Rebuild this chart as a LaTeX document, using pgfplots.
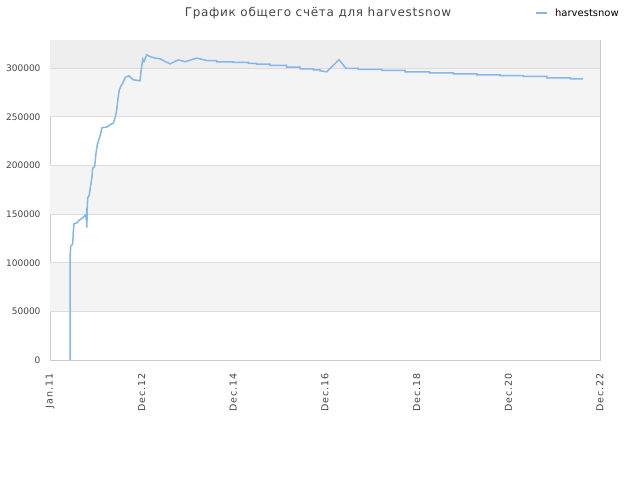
\documentclass[border=0pt]{standalone}
\usepackage{fontspec}
\setmainfont{DejaVu Sans}
\newfontfamily\lsfont{DejaVu Sans}[LetterSpace=10]
\newfontfamily\ttlfont{DejaVu Sans}[LetterSpace=6]
\usepackage{pgfplots}
\pgfplotsset{compat=1.18}
\definecolor{bandA}{HTML}{F4F4F4}
\definecolor{bandTop}{HTML}{EEEEEE}
\definecolor{gridc}{HTML}{DDDDDD}
\definecolor{framec}{HTML}{CCCCCC}
\definecolor{linec}{RGB}{130,184,238}
\definecolor{txt}{HTML}{444444}
\begin{document}
\begin{tikzpicture}[x=1pt,y=1pt]
\useasboundingbox (0,0) rectangle (640,480);
\begin{axis}[
  at={(50pt,120pt)}, anchor=south west,
  scale only axis, width=550pt, height=320pt,
  xmin=0, xmax=144, ymin=0, ymax=329000,
  axis line style={framec},
  xtick={0,24,48,72,96,120,144},
  xticklabels={Jan.11,Dec.12,Dec.14,Dec.16,Dec.18,Dec.20,Dec.22},
  xticklabel style={rotate=90, anchor=east, font=\lsfont\fontsize{9.5}{10}\selectfont, text=txt},
  xticklabel shift={10pt},
  ytick={0,50000,100000,150000,200000,250000,300000},
  yticklabel style={font=\fontsize{9}{10}\selectfont, text=txt},
  yticklabel shift={6pt},
  scaled y ticks=false,
  /pgf/number format/fixed,
  /pgf/number format/1000 sep={},
  /pgf/number format/assume math mode=true,
  major tick length=0pt,
  legend style={draw=none, fill=none, at={(axis description cs:1.0436,1.084)}, anchor=east, font=\fontsize{10}{11}\selectfont, text=black},
  legend image code/.code={\draw[#1, line width=2.5pt] (0pt,0pt) -- (11pt,0pt); \path (16pt,0pt);},
]
\fill[bandA] (axis cs:0,50000) rectangle (axis cs:144,100000);
\fill[bandA] (axis cs:0,150000) rectangle (axis cs:144,200000);
\fill[bandA] (axis cs:0,250000) rectangle (axis cs:144,300000);
\fill[bandTop] (axis cs:0,300000) rectangle (axis cs:144,329000);
\foreach \v in {50000,100000,150000,200000,250000,300000}{
  \edef\tmp{\noexpand\draw[gridc, line width=0.8pt] (axis cs:0,\v) -- (axis cs:144,\v);}\tmp
}
\addplot[linec, line width=1.5pt] coordinates {
(5.24,0) (5.24,106300) (5.42,116600) (5.94,119400) (6.10,132000) (6.28,139900)
(7.15,141300) (7.67,144000) (8.46,145800) (9.30,149000) (9.50,145000) (9.61,156000)
(9.66,136000) (9.74,156000) (9.87,166300) (10.29,169800) (10.66,180000) (11.00,188600)
(11.18,197200) (11.70,198900) (12.04,212600) (12.39,221200) (12.91,228000) (13.28,233200)
(13.62,239000) (14.85,239400) (15.71,241800) (16.58,243500) (17.10,249700) (17.47,257200)
(17.81,269200) (18.15,277800) (18.51,281200) (19.04,284600) (19.72,290800) (20.61,292200)
(21.81,288100) (23.57,287000) (23.83,296600) (24.27,309300) (24.61,306900) (25.32,313800)
(26.18,312000) (27.49,310400) (28.80,309700) (30.11,306900) (31.42,304500) (33.59,308600)
(35.35,306600) (38.41,310400) (41.03,307900)
(43.65,307900) (43.65,306600) (48.00,306600) (48.00,305900) (51.92,305900) (51.92,304900)
(54.12,304900) (54.12,304200) (57.61,304200) (57.61,302800) (61.98,302800) (61.98,301100)
(65.47,301100) (65.47,299400) (68.94,299400) (68.94,298400) (70.70,298400) (70.70,297300)
(72.45,296300) (75.67,308800) (77.51,299700)
(80.73,299700) (80.73,298700) (86.86,298700) (86.86,297700) (92.96,297700) (92.96,296300)
(99.32,296300) (99.32,295300) (105.60,295300) (105.60,294200) (111.73,294200) (111.73,293200)
(117.83,293200) (117.83,292500) (123.94,292500) (123.94,291500) (130.06,291500) (130.06,290100)
(136.34,290100) (136.34,289100) (139.49,289100)
};
\addlegendentry{harvestsnow}
\end{axis}
\node[text=txt, font=\ttlfont\fontsize{12}{14}\selectfont] at (318,467) {График общего счёта для harvestsnow};
\end{tikzpicture}
\end{document}
